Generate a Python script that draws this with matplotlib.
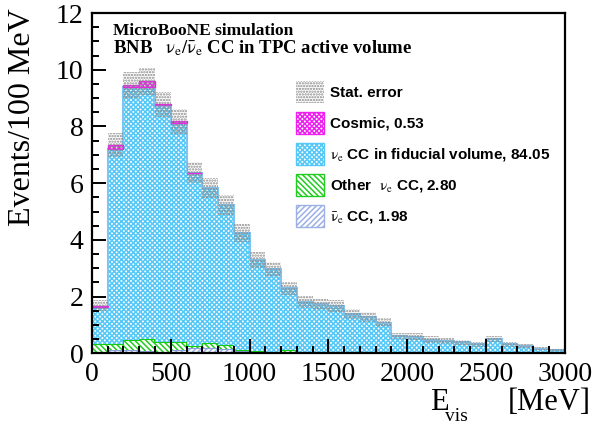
import numpy as np
import matplotlib
matplotlib.use('Agg')
import matplotlib.pyplot as plt
from matplotlib.patches import Patch
from matplotlib.ticker import MultipleLocator

plt.rcParams['font.family'] = 'Liberation Serif'
plt.rcParams['mathtext.fontset'] = 'stix'
plt.rcParams['hatch.linewidth'] = 1.1

# 100 MeV bins, 0 - 3000 MeV
edges = np.arange(0, 3001, 100)

nuebar_cc = [0.02, 0.10, 0.10, 0.08, 0.05, 0.10, 0.19, 0.19, 0.16, 0.08,
             0.05, 0.03, 0.05, 0.03, 0.03, 0.02, 0.03, 0.02, 0.02, 0.02,
             0.01, 0.01, 0.01, 0.01, 0.01, 0.01, 0.01, 0.01, 0.01, 0.01]
other_nue_cc = [0.29, 0.21, 0.36, 0.41, 0.33, 0.28, 0.07, 0.18, 0.12, 0.05,
                0.03, 0.02, 0.05, 0.02, 0.02, 0.02, 0.01, 0.02, 0.02, 0.01,
                0.01, 0.00, 0.00, 0.00, 0.00, 0.00, 0.00, 0.00, 0.00, 0.00]
nue_cc_fid = [1.32, 6.89, 8.95, 8.90, 8.38, 7.76, 6.09, 5.46, 4.94, 4.12,
              3.21, 2.91, 2.19, 1.76, 1.68, 1.62, 1.34, 1.24, 1.03, 0.58,
              0.56, 0.47, 0.43, 0.38, 0.31, 0.48, 0.31, 0.24, 0.15, 0.10]
cosmic = [0.05, 0.15, 0.04, 0.20, 0.02, 0.04, 0.02, 0.00, 0.00, 0.00,
          0.00, 0.00, 0.00, 0.00, 0.00, 0.00, 0.00, 0.00, 0.00, 0.00,
          0.00, 0.00, 0.00, 0.00, 0.00, 0.00, 0.00, 0.00, 0.00, 0.00]
stat_err = [0.19, 0.41, 0.47, 0.47, 0.45, 0.43, 0.38, 0.37, 0.35, 0.31,
            0.28, 0.26, 0.23, 0.20, 0.20, 0.20, 0.18, 0.17, 0.16, 0.12,
            0.12, 0.11, 0.10, 0.09, 0.09, 0.11, 0.09, 0.08, 0.06, 0.05]

labels = [r"$\mathrm{\bar{\nu}_e}$ CC, 1.98",
          r"Other  $\mathrm{\nu_e}$ CC, 2.80",
          r"$\mathrm{\nu_e}$ CC in fiducial volume, 84.05",
          "Cosmic, 0.53"]
hatch_cols = ['#9db0e6', '#22cc22', '#55c8f8', '#ee22ee']
line_cols = ['#8a9fdc', '#11cc11', '#80c4f0', '#ee22ee']
hatches = ['//////', '\\\\\\\\\\\\', 'xxxxxxx', 'xxxxxxx']

fig = plt.figure(figsize=(5.97, 4.24), dpi=100)
ax = fig.add_axes([0.154, 0.167, 0.792, 0.802])

x0 = edges[:-1]
bottom = np.zeros(len(x0))
comps = [nuebar_cc, other_nue_cc, nue_cc_fid]
for vals, hc, lc, h in zip(comps, hatch_cols, line_cols, hatches):
    vals = np.array(vals)
    ax.bar(x0, vals, width=100, align='edge', bottom=bottom,
           facecolor='white', edgecolor=hc, hatch=h, linewidth=0)
    ax.stairs(bottom + vals, edges, color=lc, linewidth=1.5)
    bottom = bottom + vals

# cosmic only where present
cos = np.array(cosmic)
m = cos > 0
ax.bar(x0[m], cos[m], width=100, align='edge', bottom=bottom[m],
       facecolor='white', edgecolor=hatch_cols[3], hatch=hatches[3], linewidth=1.0)
total = bottom + cos

err = np.array(stat_err)
ax.bar(x0, 2 * err, width=100, align='edge', bottom=total - err,
       facecolor='none', edgecolor='#888888', hatch='......', linewidth=0)

ax.set_xlim(0, 3000)
ax.set_ylim(0, 12)
ax.xaxis.set_major_locator(MultipleLocator(500))
ax.xaxis.set_minor_locator(MultipleLocator(100))
ax.yaxis.set_major_locator(MultipleLocator(2))
ax.yaxis.set_minor_locator(MultipleLocator(0.5))
ax.xaxis.set_ticks_position('bottom')
ax.yaxis.set_ticks_position('left')
ax.tick_params(which='both', direction='in', width=1.4, labelsize=20)
ax.tick_params(which='major', length=10, pad=6)
ax.tick_params(which='minor', length=5)
for s in ax.spines.values():
    s.set_linewidth(1.6)

# axis titles, ROOT style
fig.text(0.99, 0.033, "[MeV]", fontsize=22, ha='right', va='baseline')
fig.text(0.720, 0.033, "E", fontsize=22, ha='left', va='baseline')
fig.text(0.746, 0.007, "vis", fontsize=14, ha='left', va='baseline')
fig.text(0.0385, 0.981, "Events/100 MeV", fontsize=23, rotation=90, ha='center', va='top')

ax.text(0.045, 0.935, "MicroBooNE simulation", transform=ax.transAxes,
        fontsize=12.5, fontweight='bold', va='baseline')
ax.text(0.045, 0.882, r"BNB   $\mathrm{\nu_e/\bar{\nu}_e}$ CC in TPC active volume",
        transform=ax.transAxes, fontsize=13.5, fontweight='bold', va='baseline')

handles = [Patch(facecolor='white', edgecolor='#888888', hatch='......', linewidth=0)]
handles.append(Patch(facecolor='white', edgecolor=hatch_cols[3], hatch=hatches[3]))
handles.append(Patch(facecolor='white', edgecolor=hatch_cols[2], hatch=hatches[2]))
handles.append(Patch(facecolor='white', edgecolor=hatch_cols[1], hatch=hatches[1]))
handles.append(Patch(facecolor='white', edgecolor=hatch_cols[0], hatch=hatches[0]))
leg_labels = ["Stat. error", labels[3], labels[2], labels[1], labels[0]]
ax.legend(handles, leg_labels, loc='upper left', bbox_to_anchor=(0.431, 0.80),
          frameon=False, prop={'family': 'Liberation Sans', 'weight': 'bold', 'size': 11},
          handlelength=1.88, handleheight=1.78, labelspacing=0.63, handletextpad=0.37,
          borderaxespad=0, borderpad=0)

fig.savefig('out.png', dpi=100)
